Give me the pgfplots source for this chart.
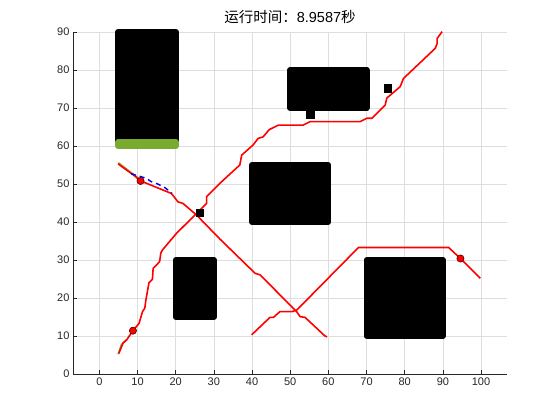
\documentclass[border=0pt]{standalone}
\usepackage{fontspec}
\setmainfont{Liberation Sans}
\newfontfamily\cjk{Noto Sans CJK SC}
\usepackage{pgfplots}
\pgfplotsset{compat=1.18}
\definecolor{axgray}{rgb}{0.15,0.15,0.15}
\definecolor{gridgray}{rgb}{0.87,0.87,0.87}
\definecolor{mgreen}{rgb}{0.47,0.67,0.19}
\begin{document}
\begin{tikzpicture}
\useasboundingbox (0,0) rectangle (560pt,420pt);
\begin{axis}[
  at={(73pt,46pt)}, anchor=south west,
  scale only axis, width=434pt, height=342pt,
  xmin=-6.9, xmax=106.8, ymin=0, ymax=90,
  xtick={0,10,...,100}, ytick={0,10,...,90},
  axis x line*=bottom, axis y line*=left,
  axis line style={-, axgray, line width=0.6pt},
  tick style={axgray, line width=0.5pt}, tick align=inside,
  major tick length=4pt,
  grid=major, grid style={gridgray, line width=0.5pt},
  tick label style={font=\fontsize{11}{13}\selectfont, text=axgray},
  /pgf/number format/assume math mode=true,
  title={{\cjk 运行时间：}8.9587{\cjk 秒}},
  title style={font=\fontsize{14.5}{17}\selectfont, text=black, yshift=-1pt},
  clip=false,
]
% obstacles
\addplot[fill=black, draw=black, line width=6pt, line join=round] coordinates {(5,61)(20,61)(20,90)(5,90)} -- cycle;
\addplot[fill=mgreen, draw=mgreen, line width=6pt, line join=round] coordinates {(5,60)(20,60)(20,61)(5,61)} -- cycle;
\addplot[fill=black, draw=black, line width=6pt, line join=round] coordinates {(50,70)(70,70)(70,80)(50,80)} -- cycle;
\addplot[fill=black, draw=black, line width=6pt, line join=round] coordinates {(40,40)(60,40)(60,55)(40,55)} -- cycle;
\addplot[fill=black, draw=black, line width=6pt, line join=round] coordinates {(20,15)(30,15)(30,30)(20,30)} -- cycle;
\addplot[fill=black, draw=black, line width=6pt, line join=round] coordinates {(70,10)(90,10)(90,30)(70,30)} -- cycle;
% initial paths
\addplot[mgreen, line width=1.5pt] coordinates {(4.9,5.2)(5.8,7.8)(7,9)};
\addplot[mgreen, line width=1.5pt] coordinates {(5,55.6)(9,52.5)(10.5,51.4)};
% red paths
\addplot[red, line width=1.6pt] coordinates {
  (5.1,5.4)(6.2,8.1)(7.1,8.9)(8.8,11.4)(10.4,13.3)(11.3,16.4)(11.9,17.3)(12.2,19.5)
  (13.0,24.0)(13.9,24.9)(14.1,27.8)(15.0,28.7)(15.8,29.6)(16.1,31.8)(16.5,32.6)
  (20.2,37.0)(28.1,44.9)(28.1,46.7)(31.6,50.2)(36.8,55.0)(37.3,57.6)(40.3,60.3)
  (41.6,62.0)(42.9,62.4)(44.5,64.3)(46.9,65.5)(53.4,65.5)(55.2,66.4)(68.3,66.4)
  (70.1,67.3)(71.4,67.3)(74.9,70.8)(75.3,72.6)(78.8,75.6)(79.7,77.8)(88.0,85.7)
  (88.5,87.0)(88.5,88.3)(89.8,90.1)};
\addplot[red, line width=1.6pt] coordinates {
  (4.9,55.3)(9.3,52.1)(10.6,50.9)(18.9,47.5)(20.6,45.3)(21.9,44.9)(25.5,41.8)
  (31.6,35.5)(40.8,26.5)(42.1,26.1)(51.7,16.4)(52.6,15.1)(53.9,14.9)(59.1,10.0)(59.7,9.8)};
\addplot[red, line width=1.6pt] coordinates {
  (39.9,10.3)(44.7,14.9)(45.6,14.9)(47.3,16.4)(50.4,16.4)(51.7,16.8)(67.9,33.3)
  (91.5,33.3)(94.6,30.4)(99.8,25.2)};
% smoothed segment
\addplot[blue, line width=1.4pt, dash pattern=on 5pt off 4pt] coordinates {
  (8.3,52.7)(10,52.2)(12.3,51.5)(13.6,50.6)(15.3,50.0)(17.1,49.1)(19,47.6)};
% markers
\addplot[only marks, mark=*, mark size=3.6pt, mark options={fill=red, draw=black!70!red, line width=0.6pt}] coordinates {
  (8.8,11.4)(10.8,50.8)(94.6,30.4)};
\addplot[only marks, mark=square*, mark size=3.8pt, mark options={fill=black, draw=black}] coordinates {
  (26.3,42.5)(55.2,68.3)(75.5,75.2)};
\end{axis}
\end{tikzpicture}
\end{document}
